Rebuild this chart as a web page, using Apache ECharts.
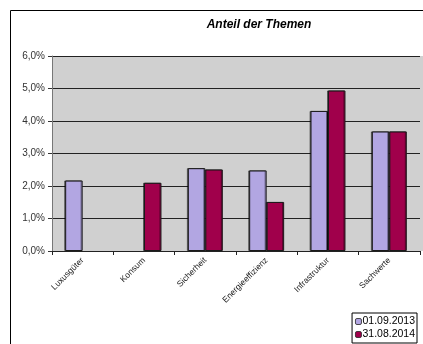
<!DOCTYPE html>
<html><head><meta charset="utf-8">
<script src="https://cdn.jsdelivr.net/npm/echarts@6/dist/echarts.min.js"></script>
<style>html,body{margin:0;padding:0;background:#fff}#c{width:423px;height:344px}</style>
</head><body><div id="c"></div>
<script>
const categories = ['Luxusgüter','Konsum','Sicherheit','Energieeffizienz','Infrastruktur','Sachwerte'];
const series2013 = [2.17, null, 2.55, 2.48, 4.31, 3.68];
const series2014 = [null, 2.10, 2.51, 1.51, 4.94, 3.68];
const seriesNames = ['01.09.2013','31.08.2014'];
const titleText = 'Anteil der Themen';

const chart = echarts.init(document.getElementById('c'), null, {renderer:'canvas'});
const font = 'Liberation Sans, Arial, sans-serif';
const barStyle = (c) => ({color:c, borderColor:'#1a1a1a', borderWidth:1, shadowColor:'rgba(0,0,0,0.45)', shadowOffsetX:-1, shadowOffsetY:0, shadowBlur:0});
chart.setOption({
  animation:false,
  title:{text:titleText, left:254, top:14, textAlign:'center',
    textStyle:{fontFamily:font, fontSize:12, fontWeight:'bold', fontStyle:'italic', color:'#000'}},
  graphic:[
    {type:'rect', shape:{x:10.5,y:10.5,width:420,height:340}, style:{fill:null, stroke:'#000', lineWidth:1}, z:-1},
    {type:'rect', shape:{x:420,y:56,width:3,height:195}, style:{fill:'#d0d0d0'}, z:-1}
  ],
  legend:{right:6, bottom:1, orient:'vertical', itemWidth:6, itemHeight:6, itemGap:0,
    padding:[2,2,2,3], borderColor:'#000', borderWidth:1, backgroundColor:'#fff',
    textStyle:{fontFamily:font, fontSize:10.5, lineHeight:13, color:'#000', padding:[0,0,0,-4]},
    itemStyle:{borderColor:'#222', borderWidth:0.8},
    data:seriesNames},
  grid:{left:52, right:3, top:56, bottom:93, containLabel:false, show:true, backgroundColor:'#d0d0d0', borderWidth:0},
  xAxis:{type:'category', data:categories,
    axisLine:{lineStyle:{color:'#222', width:1}},
    axisTick:{show:true, length:4, alignWithLabel:false, lineStyle:{color:'#222'}},
    axisLabel:{rotate:45, fontFamily:font, fontSize:8.5, color:'#222', margin:8, interval:0}},
  yAxis:{type:'value', min:0, max:6, interval:1,
    axisLine:{show:true, lineStyle:{color:'#777'}},
    axisTick:{show:true, length:4, lineStyle:{color:'#333'}},
    axisLabel:{fontFamily:font, fontSize:10, color:'#333', margin:7,
      formatter:v => v.toFixed(1).replace('.', ',') + '%'},
    splitLine:{show:true, lineStyle:{color:'#222', width:1}}},
  series:[
    {name:seriesNames[0], type:'bar', data:series2013, barGap:'0%', barCategoryGap:'43%', itemStyle:barStyle('#b2a6e2')},
    {name:seriesNames[1], type:'bar', data:series2014, barGap:'0%', barCategoryGap:'43%', itemStyle:barStyle('#a0004b')}
  ]
});
</script></body></html>
